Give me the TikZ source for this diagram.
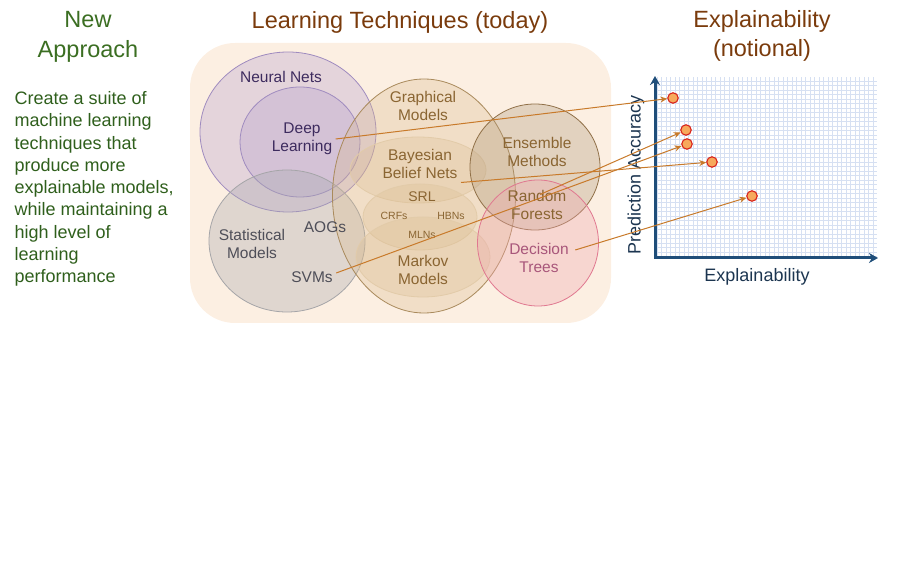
\documentclass[tikz,border=0pt]{standalone}
\usepackage{fontspec}
\setmainfont{Liberation Sans}
\usepackage{tikz}
\usetikzlibrary{arrows.meta,shapes.geometric}

\definecolor{titlebrown}{HTML}{7A3B0C}
\definecolor{headgreen}{HTML}{3B6E22}
\definecolor{bodygreen}{HTML}{2F5F1C}
\definecolor{bgpeach}{HTML}{FCEFE2}
\definecolor{nnfill}{HTML}{B9A3CF}
\definecolor{nnline}{HTML}{9F8BBF}
\definecolor{nntext}{HTML}{3D2B5E}
\definecolor{stfill}{HTML}{A9A9AE}
\definecolor{stline}{HTML}{A5A5A8}
\definecolor{sttext}{HTML}{4E4E58}
\definecolor{gmfill}{HTML}{D9B98A}
\definecolor{gmline}{HTML}{A98A5C}
\definecolor{gminner}{HTML}{E2CBA9}
\definecolor{gmtext}{HTML}{8A6532}
\definecolor{emfill}{HTML}{A89070}
\definecolor{emline}{HTML}{907048}
\definecolor{dtfill}{HTML}{F0A8B0}
\definecolor{dtline}{HTML}{E07890}
\definecolor{dttext}{HTML}{A8567A}
\definecolor{arrowc}{HTML}{C87A2A}
\definecolor{dotred}{HTML}{D8221A}
\definecolor{dotfill}{HTML}{F7A95C}
\definecolor{gridblue}{HTML}{D6E0F2}
\definecolor{axisblue}{HTML}{1F4E7A}
\definecolor{axistext}{HTML}{1C3550}

\begin{document}
\begin{tikzpicture}[x=1pt,y=-1pt,>=Stealth,
  venn/.style={ellipse,draw,line width=0.8pt,inner sep=0pt,fill opacity=0.35},
  lbl/.style={align=center,font=\fontsize{15.5}{18.5}\selectfont},
  sublbl/.style={font=\fontsize{10.5}{12}\selectfont,text=gmtext},
  heading/.style={align=center,font=\fontsize{23.5}{29.5}\selectfont},
  pointer/.style={-{Stealth[length=7pt,width=6pt]},draw=arrowc,line width=1pt},
  scoredot/.style={circle,draw=dotred,fill=dotfill,line width=1.1pt,minimum size=10.5pt,inner sep=0pt},
  axislbl/.style={text=axistext,font=\fontsize{18}{20}\selectfont}]
  \useasboundingbox (0,0) rectangle (900,569);

  % left column
  \node[heading,text=headgreen] (newhead) at (88,37) {New\\Approach};
  \node[anchor=west,align=left,text=bodygreen,font=\fontsize{18}{22.3}\selectfont] (goal) at (11,189)
    {Create a suite of\\machine learning\\techniques that\\produce more\\explainable models,\\while maintaining a\\high level of\\learning\\performance};

  % learning techniques
  \node[heading,text=titlebrown] (lthead) at (400,22) {Learning Techniques (today)};
  \fill[bgpeach,rounded corners=45pt] (190,43) rectangle (611,323);

  \node[venn,draw=nnline,fill=nnfill,minimum width=176pt,minimum height=160pt] (nnset) at (288,132) {};
  \node[venn,draw=nnline,fill=nnfill,minimum width=120pt,minimum height=110pt] (dlset) at (300,142) {};
  \node[venn,draw=stline,fill=stfill,minimum width=156pt,minimum height=142pt] (stset) at (287,241) {};
  \node[venn,draw=gmline,fill=gmfill,fill opacity=0.3,minimum width=183pt,minimum height=234pt] (gmset) at (424,196) {};
  \node[venn,draw=gminner,fill=gmfill,fill opacity=0.25,minimum width=136pt,minimum height=66pt] (bbset) at (418,170) {};
  \node[venn,draw=gminner,fill=gmfill,fill opacity=0.25,minimum width=114pt,minimum height=66pt] (srlset) at (420,217) {};
  \node[venn,draw=gminner,fill=gmfill,fill opacity=0.25,minimum width=134pt,minimum height=80pt] (mmset) at (423,257) {};
  \node[venn,draw=emline,fill=emfill,fill opacity=0.3,minimum width=130pt,minimum height=126pt] (emset) at (535,167) {};
  \node[venn,draw=dtline,fill=dtfill,fill opacity=0.35,minimum width=121pt,minimum height=126pt] (dtset) at (538,243) {};

  \node[lbl,text=nntext] (nn) at (281,77) {Neural Nets};
  \node[lbl,text=nntext] (dl) at (302,139) {Deep\\Learning};
  \node[lbl,text=sttext] (st) at (252,244) {Statistical\\Models};
  \node[lbl,text=sttext] (aog) at (325,227) {AOGs};
  \node[lbl,text=sttext] (svm) at (312,277) {SVMs};
  \node[lbl,text=gmtext] (gm) at (423,106) {Graphical\\Models};
  \node[lbl,text=gmtext] (bbn) at (420,164) {Bayesian\\Belief Nets};
  \node[lbl,text=gmtext,font=\fontsize{14}{16}\selectfont] (srl) at (422,197) {SRL};
  \node[sublbl] (crf) at (394,216) {CRFs};
  \node[sublbl] (hbn) at (451,216) {HBNs};
  \node[sublbl] (mln) at (422,235) {MLNs};
  \node[lbl,text=gmtext] (mm) at (423,270) {Markov\\Models};
  \node[lbl,text=gmtext] (em) at (537,152) {Ensemble\\Methods};
  \node[lbl,text=gmtext] (rf) at (537,205) {Random\\Forests};
  \node[lbl,text=dttext] (dt) at (539,258) {Decision\\Trees};

  % explainability chart
  \node[heading,text=titlebrown] (exhead) at (762,36) {Explainability\\(notional)};
  \draw[gridblue,line width=0.45pt] (655,258) grid[step=4.5pt] (877,77);
  \coordinate (ytop) at (655,76);
  \coordinate (origin) at (655,258);
  \coordinate (xend) at (878,258);
  \draw[axisblue,line width=3pt,{Stealth[length=9pt,width=10pt]}-{Stealth[length=9pt,width=10pt]}] (ytop) -- (origin) -- (xend);
  \node[axislbl,rotate=90] (ylab) at (636,175) {Prediction Accuracy};
  \node[axislbl] (xlab) at (757,277) {Explainability};

  \node[scoredot] (p1) at (673,98) {};
  \node[scoredot] (p2) at (686,130) {};
  \node[scoredot] (p3) at (687,144) {};
  \node[scoredot] (p4) at (712,162) {};
  \node[scoredot] (p5) at (752,196) {};

  \draw[pointer] (dl.east) -- (p1);
  \draw[pointer] ([xshift=3pt,yshift=-8pt]rf.north) -- (p2);
  \draw[pointer] ([yshift=4pt]svm.east) -- (p3);
  \draw[pointer] (bbn.south east) -- (p4);
  \draw[pointer] ([xshift=3pt,yshift=8pt]dt.east) -- (p5);
\end{tikzpicture}
\end{document}
